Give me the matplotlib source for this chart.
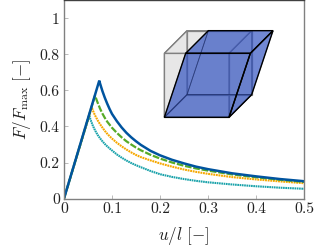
import matplotlib
matplotlib.use("Agg")
import matplotlib.pyplot as plt
from matplotlib.patches import Polygon

plt.rcParams["font.family"] = "cmr10"
plt.rcParams["mathtext.fontset"] = "cm"
plt.rcParams["axes.unicode_minus"] = False
plt.rcParams["axes.formatter.use_mathtext"] = True

W, H = 320, 249
FS = 11.3

# courbes
u_bleu = [0, 0.0735, 0.075, 0.08, 0.085, 0.09, 0.095, 0.1, 0.11, 0.12, 0.13, 0.14, 0.15, 0.16, 0.18, 0.2, 0.225, 0.25, 0.275, 0.3, 0.35, 0.4, 0.45, 0.5]
f_bleu = [0, 0.655, 0.64, 0.597, 0.56, 0.527, 0.497, 0.47, 0.43, 0.395, 0.365, 0.34, 0.318, 0.298, 0.265, 0.24, 0.215, 0.195, 0.177, 0.163, 0.14, 0.123, 0.108, 0.096]
u_vert = [0, 0.0646, 0.07, 0.075, 0.08, 0.085, 0.09, 0.095, 0.1, 0.11, 0.12, 0.13, 0.14, 0.15, 0.16, 0.18, 0.2, 0.225, 0.25, 0.275, 0.3, 0.35, 0.4, 0.45, 0.5]
f_vert = [0, 0.572, 0.533, 0.5, 0.472, 0.448, 0.427, 0.41, 0.393, 0.365, 0.34, 0.318, 0.3, 0.283, 0.268, 0.243, 0.222, 0.2, 0.182, 0.167, 0.155, 0.134, 0.118, 0.104, 0.092]
u_orange = [0, 0.0577, 0.06, 0.065, 0.07, 0.075, 0.08, 0.085, 0.09, 0.095, 0.1, 0.11, 0.12, 0.13, 0.14, 0.15, 0.16, 0.18, 0.2, 0.225, 0.25, 0.275, 0.3, 0.35, 0.4, 0.45, 0.5]
f_orange = [0, 0.507, 0.49, 0.46, 0.435, 0.413, 0.394, 0.376, 0.36, 0.346, 0.333, 0.31, 0.29, 0.272, 0.256, 0.242, 0.23, 0.212, 0.195, 0.177, 0.161, 0.148, 0.137, 0.119, 0.106, 0.095, 0.085]
u_turq = [0, 0.0527, 0.055, 0.06, 0.065, 0.07, 0.075, 0.08, 0.085, 0.09, 0.095, 0.1, 0.11, 0.12, 0.13, 0.14, 0.15, 0.16, 0.18, 0.2, 0.225, 0.25, 0.275, 0.3, 0.35, 0.4, 0.45, 0.5]
f_turq = [0, 0.461, 0.44, 0.405, 0.377, 0.354, 0.335, 0.318, 0.303, 0.29, 0.278, 0.267, 0.245, 0.227, 0.211, 0.197, 0.185, 0.174, 0.153, 0.135, 0.12, 0.108, 0.098, 0.09, 0.078, 0.068, 0.06, 0.054]

xticks = [0, 0.1, 0.2, 0.3, 0.4, 0.5]
xlabels = ["0", "0.1", "0.2", "0.3", "0.4", "0.5"]
yticks = [0, 0.2, 0.4, 0.6, 0.8, 1]
ylabels = ["0", "0.2", "0.4", "0.6", "0.8", "1"]

fig = plt.figure(figsize=(W / 100, H / 100), dpi=100)
ax = fig.add_axes([64 / W, 1 - 198.5 / H, 240 / W, 198 / H])

ax.plot(u_turq, f_turq, color="#0098a1", lw=1.5, ls=(0, (0.8, 0.3)), alpha=0.9)
ax.plot(u_orange, f_orange, color="#f6a800", lw=1.5, ls=(0, (0.9, 0.35)))
ax.plot(u_vert, f_vert, color="#57ab27", lw=1.6, ls=(0, (3, 0.8)))
ax.plot(u_bleu, f_bleu, color="#00549f", lw=1.8, solid_joinstyle="miter")

ax.set_xlim(0, 0.5)
ax.set_ylim(0, 1.1)
ax.set_xticks(xticks, xlabels, fontsize=FS)
ax.set_yticks(yticks, ylabels, fontsize=FS)
ax.tick_params(direction="in", length=3, width=0.6, color="#b0b0b0", pad=3, labelcolor="#222222")
for s in ax.spines.values():
    s.set_color("#808080")
    s.set_linewidth(1.0)
ax.spines["top"].set_color("#404040")
ax.set_xlabel(r"$u/l\ \mathrm{[-]}$", fontsize=FS + 1, labelpad=6, color="#222222")
ax.set_ylabel(r"$F/F_{\mathrm{max}}\ \mathrm{[-]}$", fontsize=FS + 1, labelpad=5, color="#222222")


# cube et cube cisaillé dans un petit axe superposé
def proj(x, y, z, cis=0):
    return (43 + 194 * x + 68 * y + 64 * z * cis, 307 - 68 * y - 192 * z)


def face(sommets, cis=0):
    return [proj(x, y, z, cis) for x, y, z in sommets]


faces = [
    [(0, 1, 0), (1, 1, 0), (1, 1, 1), (0, 1, 1)],
    [(0, 0, 0), (0, 1, 0), (0, 1, 1), (0, 0, 1)],
    [(0, 0, 0), (1, 0, 0), (1, 1, 0), (0, 1, 0)],
    [(1, 0, 0), (1, 1, 0), (1, 1, 1), (1, 0, 1)],
    [(0, 0, 1), (1, 0, 1), (1, 1, 1), (0, 1, 1)],
    [(0, 0, 0), (1, 0, 0), (1, 0, 1), (0, 0, 1)],
]

inset = fig.add_axes([150 / W, 1 - 130 / H, 140 / W, 115 / H])
inset.set_xlim(0, 420)
inset.set_ylim(345, 0)
inset.axis("off")
for f in faces:
    inset.add_patch(Polygon(face(f), closed=True, fc="#a0a0a0", alpha=0.13, ec="none"))
    inset.add_patch(Polygon(face(f), closed=True, fill=False, ec="#808080", lw=0.9))
for f in faces:
    inset.add_patch(Polygon(face(f, 1), closed=True, fc="#2a4cc0", alpha=0.42, ec="none"))
for i, f in enumerate(faces):
    fin = i < 3
    inset.add_patch(Polygon(face(f, 1), closed=True, fill=False, ec="#1a2a65" if fin else "black",
                            lw=0.6 if fin else 1.0, alpha=0.55 if fin else 1))

fig.savefig("out.png", dpi=100)
